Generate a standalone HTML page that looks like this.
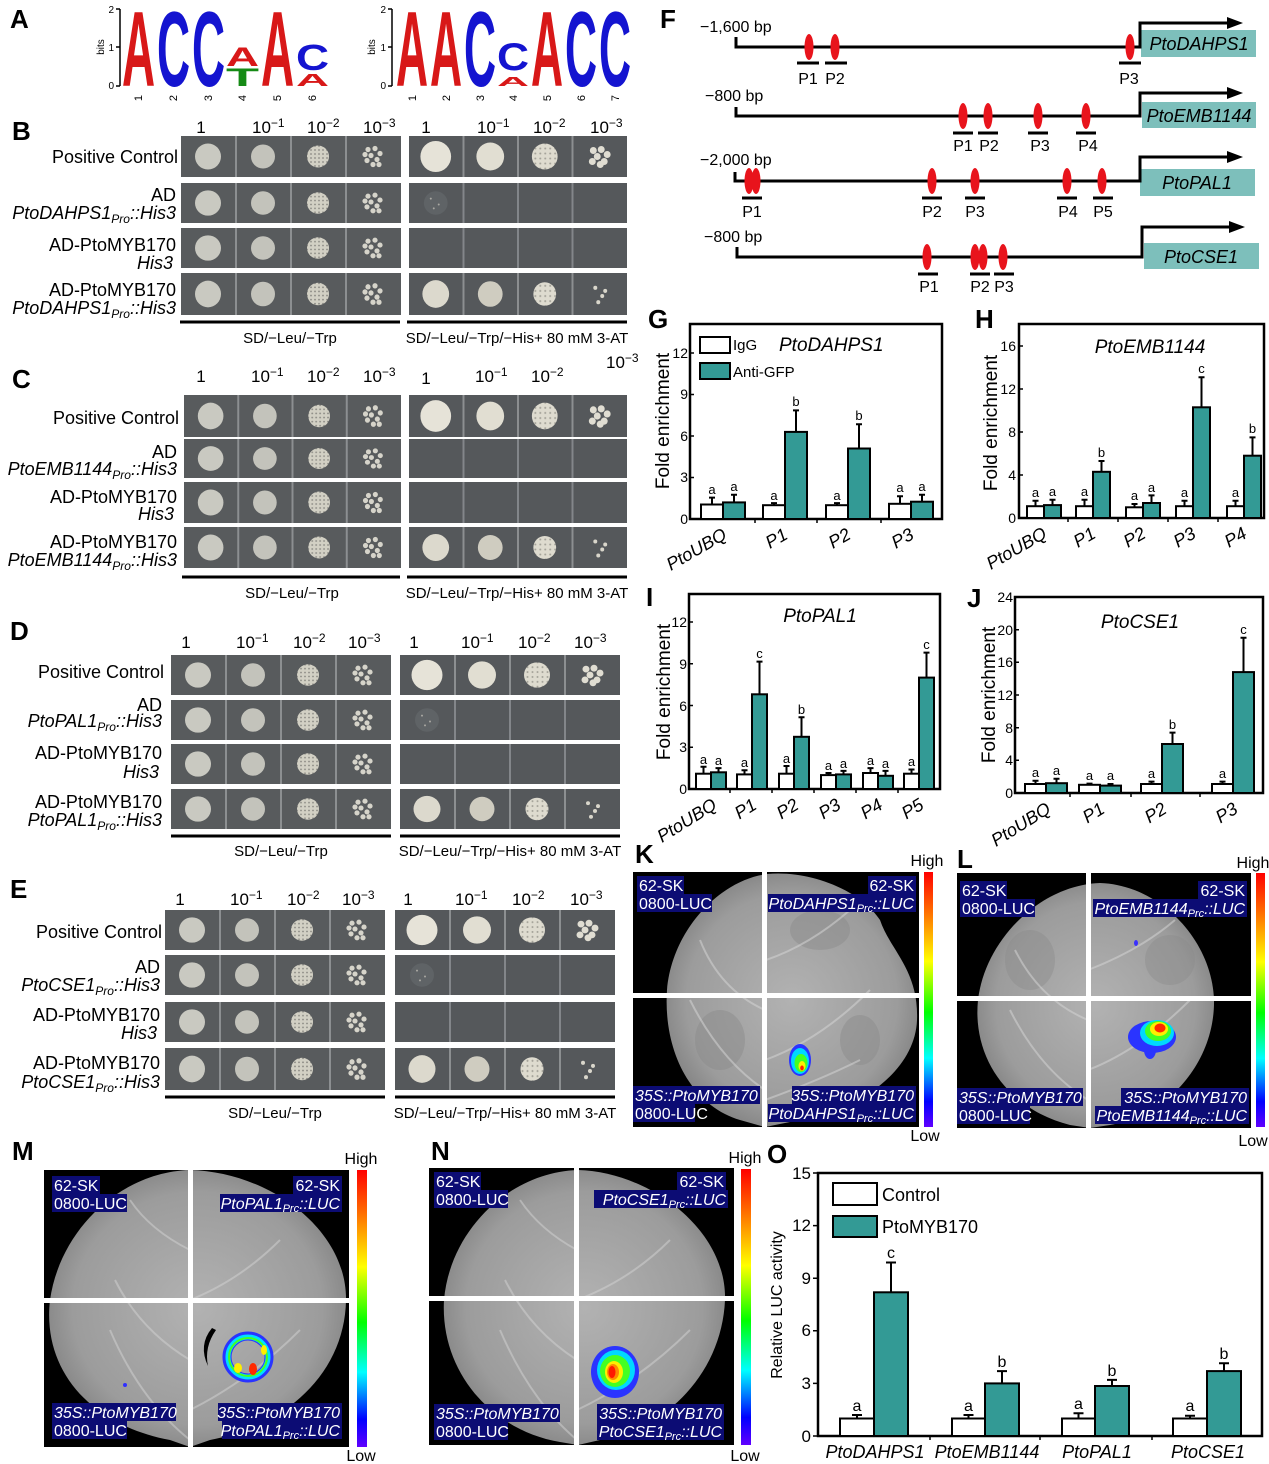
<!DOCTYPE html>
<html><head><meta charset="utf-8"><style>
html,body{margin:0;padding:0;background:#fff;}
svg{display:block;}
text{font-family:"Liberation Sans",Arial,sans-serif;}
.pl{font-size:26px;font-weight:bold;}
.rl{font-size:18px;text-anchor:end;}
.hd{font-size:17px;}
.sd{font-size:15px;text-anchor:middle;}
.lg{font-family:"Liberation Sans",Arial,sans-serif;font-weight:bold;font-size:100px;}
.tk{font-size:14px;text-anchor:end;}
.lt{font-size:13px;text-anchor:middle;}
.xl{font-size:18px;font-style:italic;text-anchor:end;}
.w{fill:#fff;stroke:#000;stroke-width:2;}
.t{fill:#339a95;stroke:#000;stroke-width:2;}
.lb{fill:#fff;font-size:16px;}
.nv{fill:#0c0c74;}
</style></head><body>
<svg width="1269" height="1464" viewBox="0 0 1269 1464" xmlns="http://www.w3.org/2000/svg">
<defs>
<pattern id="sp" width="4" height="4" patternUnits="userSpaceOnUse"><rect width="4" height="4" fill="#d2d0c4"/><circle cx="2" cy="2" r="0.9" fill="#8a8983"/></pattern>
<pattern id="sp2" width="5" height="5" patternUnits="userSpaceOnUse"><rect width="5" height="5" fill="#dedbcf"/><circle cx="2.5" cy="2.5" r="1" fill="#a4a299"/></pattern>
<linearGradient id="cb" x1="0" y1="0" x2="0" y2="1">
<stop offset="0" stop-color="#ff0000"/><stop offset="0.15" stop-color="#ff6a00"/><stop offset="0.35" stop-color="#ffff00"/><stop offset="0.55" stop-color="#00ff00"/><stop offset="0.73" stop-color="#00ffff"/><stop offset="0.9" stop-color="#0000ff"/><stop offset="1" stop-color="#6000ff"/>
</linearGradient>
<radialGradient id="lf" cx="0.5" cy="0.5" r="0.6"><stop offset="0" stop-color="#b2b2b2"/><stop offset="0.7" stop-color="#9c9c9c"/><stop offset="1" stop-color="#767676"/></radialGradient>
<symbol id="L" viewBox="0 0 220 41" preserveAspectRatio="none">
<rect width="220" height="41" fill="#585b5d"/>
<path d="M55 0V41M110 0V41M165 0V41" stroke="#8c8f91" stroke-width="2"/>
<circle cx="27" cy="20.5" r="13" fill="#c9c9c1"/>
<circle cx="82" cy="20.5" r="12" fill="#c3c3bb"/>
<circle cx="137" cy="20.5" r="11" fill="url(#sp)"/>
<g fill="#d6d4ca"><circle cx="187" cy="13.5" r="2.6"/><circle cx="194" cy="12.5" r="2.6"/><circle cx="199" cy="17.5" r="2.6"/><circle cx="190" cy="19.5" r="2.6"/><circle cx="196" cy="23.5" r="2.6"/><circle cx="186" cy="24.5" r="2.6"/><circle cx="192" cy="28.5" r="2.6"/><circle cx="198" cy="28.5" r="2.6"/><circle cx="184" cy="18.5" r="2.6"/></g>
</symbol>
<symbol id="RP" viewBox="0 0 220 41" preserveAspectRatio="none">
<rect width="220" height="41" fill="#55585b"/>
<path d="M55 0V41M110 0V41M165 0V41" stroke="#8c8f91" stroke-width="2"/>
<circle cx="27" cy="20.5" r="15.5" fill="#e6e3d8"/>
<circle cx="82" cy="20.5" r="14" fill="#e1ded2"/>
<circle cx="137" cy="20.5" r="13" fill="url(#sp2)"/>
<g fill="#e0ddd2"><circle cx="186" cy="14.5" r="3.5"/><circle cx="194" cy="13.5" r="3.5"/><circle cx="200" cy="18.5" r="3.5"/><circle cx="190" cy="20.5" r="3.5"/><circle cx="197" cy="25.5" r="3.5"/><circle cx="185" cy="25.5" r="3.5"/><circle cx="193" cy="28.5" r="3.5"/></g>
</symbol>
<symbol id="RE" viewBox="0 0 220 41" preserveAspectRatio="none">
<rect width="220" height="41" fill="#55585b"/>
<path d="M55 0V41M110 0V41M165 0V41" stroke="#83868a" stroke-width="2"/>
</symbol>
<symbol id="RF" viewBox="0 0 220 41" preserveAspectRatio="none">
<rect width="220" height="41" fill="#55585b"/>
<path d="M55 0V41M110 0V41M165 0V41" stroke="#83868a" stroke-width="2"/>
<circle cx="27" cy="20.5" r="12" fill="#5f6366"/>
<g fill="#a9a8a2"><circle cx="22" cy="16" r="1"/><circle cx="30" cy="22" r="1"/><circle cx="25" cy="26" r="1"/></g>
</symbol>
<symbol id="R4" viewBox="0 0 220 41" preserveAspectRatio="none">
<rect width="220" height="41" fill="#55585b"/>
<path d="M55 0V41M110 0V41M165 0V41" stroke="#8c8f91" stroke-width="2"/>
<circle cx="27" cy="20.5" r="13.5" fill="#dcd9cd"/>
<circle cx="82" cy="20.5" r="12.5" fill="#cfccc0"/>
<circle cx="137" cy="20.5" r="11.5" fill="url(#sp2)"/>
<g fill="#d9d6cb"><circle cx="188" cy="14.5" r="2"/><circle cx="195" cy="22.5" r="2"/><circle cx="191" cy="28.5" r="2"/><circle cx="198" cy="17.5" r="2"/></g>
</symbol>
</defs>

<!-- ===== A ===== -->
<text class="pl" x="10" y="28">A</text>
<path d="M120 9V86M116 9H120M116 47H120M116 86H120" stroke="#000" stroke-width="1.5" fill="none"/>
<text x="114" y="13" font-size="10" text-anchor="end">2</text>
<text x="114" y="51" font-size="10" text-anchor="end">1</text>
<text x="114" y="89" font-size="10" text-anchor="end">0</text>
<text transform="translate(104,47) rotate(-90)" font-size="10" text-anchor="middle">bits</text>
<text class="lg" fill="#d81818" transform="matrix(0.458 0 0 1.07 122 86)">A</text>
<text class="lg" fill="#1414d0" transform="matrix(0.458 0 0 1.07 157 86)">C</text>
<text class="lg" fill="#1414d0" transform="matrix(0.458 0 0 1.07 192 86)">C</text>
<text class="lg" fill="#d81818" transform="matrix(0.458 0 0 0.264 226 66)">A</text>
<text class="lg" fill="#158a15" transform="matrix(0.54 0 0 0.25 226 86)">T</text>
<text class="lg" fill="#d81818" transform="matrix(0.458 0 0 1.07 261 86)">A</text>
<text class="lg" fill="#1414d0" transform="matrix(0.458 0 0 0.36 296 70)">C</text>
<text class="lg" fill="#d81818" transform="matrix(0.458 0 0 0.18 296 86)">A</text>
<g font-size="11" text-anchor="middle">
<text transform="translate(142,98) rotate(-90)">1</text><text transform="translate(177,98) rotate(-90)">2</text><text transform="translate(212,98) rotate(-90)">3</text><text transform="translate(246,98) rotate(-90)">4</text><text transform="translate(281,98) rotate(-90)">5</text><text transform="translate(316,98) rotate(-90)">6</text>
</g>
<path d="M392 9V86M388 9H392M388 47H392M388 86H392" stroke="#000" stroke-width="1.5" fill="none"/>
<text x="386" y="13" font-size="10" text-anchor="end">2</text>
<text x="386" y="51" font-size="10" text-anchor="end">1</text>
<text x="386" y="89" font-size="10" text-anchor="end">0</text>
<text transform="translate(375,47) rotate(-90)" font-size="10" text-anchor="middle">bits</text>
<text class="lg" fill="#d81818" transform="matrix(0.444 0 0 1.07 396 86)">A</text>
<text class="lg" fill="#d81818" transform="matrix(0.444 0 0 1.07 430 86)">A</text>
<text class="lg" fill="#1414d0" transform="matrix(0.444 0 0 1.07 464 86)">C</text>
<text class="lg" fill="#1414d0" transform="matrix(0.444 0 0 0.389 497 70)">C</text>
<text class="lg" fill="#d81818" transform="matrix(0.444 0 0 0.125 497 86)">A</text>
<text class="lg" fill="#d81818" transform="matrix(0.444 0 0 1.07 531 86)">A</text>
<text class="lg" fill="#1414d0" transform="matrix(0.444 0 0 1.07 565 86)">C</text>
<text class="lg" fill="#1414d0" transform="matrix(0.444 0 0 1.07 599 86)">C</text>
<g font-size="11" text-anchor="middle">
<text transform="translate(416,98) rotate(-90)">1</text><text transform="translate(450,98) rotate(-90)">2</text><text transform="translate(484,98) rotate(-90)">3</text><text transform="translate(517,98) rotate(-90)">4</text><text transform="translate(551,98) rotate(-90)">5</text><text transform="translate(585,98) rotate(-90)">6</text><text transform="translate(619,98) rotate(-90)">7</text>
</g>

<!-- ===== B ===== -->
<text class="pl" x="12" y="140">B</text>
<g class="hd">
<text x="201" y="133" text-anchor="middle">1</text>
<text x="252" y="133">10<tspan font-size="12" dy="-6">−1</tspan></text>
<text x="307" y="133">10<tspan font-size="12" dy="-6">−2</tspan></text>
<text x="363" y="133">10<tspan font-size="12" dy="-6">−3</tspan></text>
<text x="426" y="133" text-anchor="middle">1</text>
<text x="477" y="133">10<tspan font-size="12" dy="-6">−1</tspan></text>
<text x="533" y="133">10<tspan font-size="12" dy="-6">−2</tspan></text>
<text x="590" y="133">10<tspan font-size="12" dy="-6">−3</tspan></text>
</g>
<use href="#L" x="181" y="136" width="220" height="41"/>
<use href="#L" x="181" y="183" width="220" height="40"/>
<use href="#L" x="181" y="228" width="220" height="40"/>
<use href="#L" x="181" y="273" width="220" height="42"/>
<use href="#RP" x="409" y="136" width="218" height="41"/>
<use href="#RF" x="409" y="183" width="218" height="40"/>
<use href="#RE" x="409" y="228" width="218" height="40"/>
<use href="#R4" x="409" y="273" width="218" height="42"/>
<path d="M180 322H400M407 322H627" stroke="#000" stroke-width="3"/>
<text class="sd" x="290" y="343">SD/−Leu/−Trp</text>
<text class="sd" x="517" y="343">SD/−Leu/−Trp/−His+ 80 mM 3-AT</text>
<g class="rl">
<text x="178" y="163">Positive Control</text>
<text x="176" y="201">AD</text>
<text x="176" y="219" font-style="italic">PtoDAHPS1<tspan font-size="12" dy="4">Pro</tspan><tspan dy="-4">::His3</tspan></text>
<text x="176" y="251">AD-PtoMYB170</text>
<text x="173" y="269" font-style="italic">His3</text>
<text x="176" y="296">AD-PtoMYB170</text>
<text x="176" y="314" font-style="italic">PtoDAHPS1<tspan font-size="12" dy="4">Pro</tspan><tspan dy="-4">::His3</tspan></text>
</g>

<!-- ===== C ===== -->
<text class="pl" x="12" y="388">C</text>
<g class="hd">
<text x="201" y="382" text-anchor="middle">1</text>
<text x="251" y="382">10<tspan font-size="12" dy="-6">−1</tspan></text>
<text x="307" y="382">10<tspan font-size="12" dy="-6">−2</tspan></text>
<text x="363" y="382">10<tspan font-size="12" dy="-6">−3</tspan></text>
<text x="426" y="384" text-anchor="middle">1</text>
<text x="475" y="382">10<tspan font-size="12" dy="-6">−1</tspan></text>
<text x="531" y="382">10<tspan font-size="12" dy="-6">−2</tspan></text>
<text x="606" y="368">10<tspan font-size="12" dy="-6">−3</tspan></text>
</g>
<use href="#L" x="184" y="395" width="217" height="42"/>
<use href="#L" x="184" y="439" width="217" height="39"/>
<use href="#L" x="184" y="482" width="217" height="41"/>
<use href="#L" x="184" y="527" width="217" height="41"/>
<use href="#RP" x="409" y="395" width="218" height="42"/>
<use href="#RE" x="409" y="439" width="218" height="39"/>
<use href="#RE" x="409" y="482" width="218" height="41"/>
<use href="#R4" x="409" y="527" width="218" height="41"/>
<path d="M182 577H400M407 577H627" stroke="#000" stroke-width="3"/>
<text class="sd" x="292" y="598">SD/−Leu/−Trp</text>
<text class="sd" x="517" y="598">SD/−Leu/−Trp/−His+ 80 mM 3-AT</text>
<g class="rl">
<text x="179" y="424">Positive Control</text>
<text x="177" y="458">AD</text>
<text x="177" y="475" font-style="italic">PtoEMB1144<tspan font-size="12" dy="4">Pro</tspan><tspan dy="-4">::His3</tspan></text>
<text x="177" y="503">AD-PtoMYB170</text>
<text x="174" y="520" font-style="italic">His3</text>
<text x="177" y="548">AD-PtoMYB170</text>
<text x="177" y="566" font-style="italic">PtoEMB1144<tspan font-size="12" dy="4">Pro</tspan><tspan dy="-4">::His3</tspan></text>
</g>

<!-- ===== D ===== -->
<text class="pl" x="10" y="640">D</text>
<g class="hd">
<text x="186" y="648" text-anchor="middle">1</text>
<text x="236" y="648">10<tspan font-size="12" dy="-6">−1</tspan></text>
<text x="293" y="648">10<tspan font-size="12" dy="-6">−2</tspan></text>
<text x="348" y="648">10<tspan font-size="12" dy="-6">−3</tspan></text>
<text x="414" y="648" text-anchor="middle">1</text>
<text x="461" y="648">10<tspan font-size="12" dy="-6">−1</tspan></text>
<text x="518" y="648">10<tspan font-size="12" dy="-6">−2</tspan></text>
<text x="574" y="648">10<tspan font-size="12" dy="-6">−3</tspan></text>
</g>
<use href="#L" x="171" y="655" width="220" height="40"/>
<use href="#L" x="171" y="700" width="220" height="40"/>
<use href="#L" x="171" y="744" width="220" height="40"/>
<use href="#L" x="171" y="789" width="220" height="40"/>
<use href="#RP" x="400" y="655" width="220" height="40"/>
<use href="#RF" x="400" y="700" width="220" height="40"/>
<use href="#RE" x="400" y="744" width="220" height="40"/>
<use href="#R4" x="400" y="789" width="220" height="40"/>
<path d="M171 836H391M400 836H620" stroke="#000" stroke-width="3"/>
<text class="sd" x="281" y="856">SD/−Leu/−Trp</text>
<text class="sd" x="510" y="856">SD/−Leu/−Trp/−His+ 80 mM 3-AT</text>
<g class="rl">
<text x="164" y="678">Positive Control</text>
<text x="162" y="711">AD</text>
<text x="162" y="727" font-style="italic">PtoPAL1<tspan font-size="12" dy="4">Pro</tspan><tspan dy="-4">::His3</tspan></text>
<text x="162" y="759">AD-PtoMYB170</text>
<text x="159" y="778" font-style="italic">His3</text>
<text x="162" y="808">AD-PtoMYB170</text>
<text x="162" y="826" font-style="italic">PtoPAL1<tspan font-size="12" dy="4">Pro</tspan><tspan dy="-4">::His3</tspan></text>
</g>

<!-- ===== E ===== -->
<text class="pl" x="10" y="898">E</text>
<g class="hd">
<text x="180" y="905" text-anchor="middle">1</text>
<text x="230" y="905">10<tspan font-size="12" dy="-6">−1</tspan></text>
<text x="287" y="905">10<tspan font-size="12" dy="-6">−2</tspan></text>
<text x="342" y="905">10<tspan font-size="12" dy="-6">−3</tspan></text>
<text x="408" y="905" text-anchor="middle">1</text>
<text x="455" y="905">10<tspan font-size="12" dy="-6">−1</tspan></text>
<text x="512" y="905">10<tspan font-size="12" dy="-6">−2</tspan></text>
<text x="570" y="905">10<tspan font-size="12" dy="-6">−3</tspan></text>
</g>
<use href="#L" x="165" y="910" width="220" height="40"/>
<use href="#L" x="165" y="955" width="220" height="40"/>
<use href="#L" x="165" y="1002" width="220" height="40"/>
<use href="#L" x="165" y="1048" width="220" height="42"/>
<use href="#RP" x="395" y="910" width="220" height="40"/>
<use href="#RF" x="395" y="955" width="220" height="40"/>
<use href="#RE" x="395" y="1002" width="220" height="40"/>
<use href="#R4" x="395" y="1048" width="220" height="42"/>
<path d="M165 1097H385M395 1097H615" stroke="#000" stroke-width="3"/>
<text class="sd" x="275" y="1118">SD/−Leu/−Trp</text>
<text class="sd" x="505" y="1118">SD/−Leu/−Trp/−His+ 80 mM 3-AT</text>
<g class="rl">
<text x="162" y="938">Positive Control</text>
<text x="160" y="973">AD</text>
<text x="160" y="991" font-style="italic">PtoCSE1<tspan font-size="12" dy="4">Pro</tspan><tspan dy="-4">::His3</tspan></text>
<text x="160" y="1021">AD-PtoMYB170</text>
<text x="157" y="1039" font-style="italic">His3</text>
<text x="160" y="1069">AD-PtoMYB170</text>
<text x="160" y="1088" font-style="italic">PtoCSE1<tspan font-size="12" dy="4">Pro</tspan><tspan dy="-4">::His3</tspan></text>
</g>

<!-- ===== F ===== -->
<text class="pl" x="660" y="28">F</text>
<g font-size="16">
<text x="700" y="32">−1,600 bp</text>
<text x="705" y="101">−800 bp</text>
<text x="700" y="165">−2,000 bp</text>
<text x="704" y="242">−800 bp</text>
</g>
<g fill="#7dbfbb">
<rect x="1141" y="30" width="115" height="27"/>
<rect x="1142" y="102" width="114" height="26"/>
<rect x="1140" y="169" width="115" height="27"/>
<rect x="1144" y="243" width="115" height="26"/>
</g>
<g font-size="18" font-style="italic" text-anchor="middle">
<text x="1199" y="50">PtoDAHPS1</text>
<text x="1199" y="122">PtoEMB1144</text>
<text x="1197" y="189">PtoPAL1</text>
<text x="1201" y="263">PtoCSE1</text>
</g>
<path d="M736 37V47H1140V23H1230M736 107V116H1140V93H1230M735 172V181H1140V157H1230M737 247V257H1142V227H1232" stroke="#000" stroke-width="3" fill="none"/>
<path d="M1227 17L1243 23L1227 29ZM1227 87L1243 93L1227 99ZM1227 151L1243 157L1227 163ZM1229 221L1245 227L1229 233Z" fill="#000"/>
<g fill="#e8141c">
<ellipse cx="809" cy="47" rx="4.5" ry="13"/><ellipse cx="835" cy="47" rx="4.5" ry="13"/><ellipse cx="1130" cy="47" rx="4.5" ry="13"/>
<ellipse cx="963" cy="116" rx="4.5" ry="13"/><ellipse cx="988" cy="116" rx="4.5" ry="13"/><ellipse cx="1038" cy="116" rx="4.5" ry="13"/><ellipse cx="1086" cy="116" rx="4.5" ry="13"/>
<ellipse cx="749" cy="181" rx="4.5" ry="13"/><ellipse cx="756" cy="181" rx="4.5" ry="13"/><ellipse cx="932" cy="181" rx="4.5" ry="13"/><ellipse cx="975" cy="181" rx="4.5" ry="13"/><ellipse cx="1067" cy="181" rx="4.5" ry="13"/><ellipse cx="1102" cy="181" rx="4.5" ry="13"/>
<ellipse cx="927" cy="257" rx="4.5" ry="13"/><ellipse cx="975" cy="257" rx="4.5" ry="13"/><ellipse cx="983" cy="257" rx="4.5" ry="13"/><ellipse cx="1003" cy="257" rx="4.5" ry="13"/>
</g>
<path d="M797 63H819M825 63H847M1119 63H1141M953 133H973M978 133H998M1028 133H1048M1076 133H1096M742 198H762M922 198H942M965 198H985M1057 198H1077M1093 198H1113M918 274H938M970 274H990M994 274H1014" stroke="#000" stroke-width="3"/>
<g font-size="16" text-anchor="middle">
<text x="808" y="84">P1</text><text x="835" y="84">P2</text><text x="1129" y="84">P3</text>
<text x="963" y="151">P1</text><text x="989" y="151">P2</text><text x="1040" y="151">P3</text><text x="1088" y="151">P4</text>
<text x="752" y="217">P1</text><text x="932" y="217">P2</text><text x="975" y="217">P3</text><text x="1068" y="217">P4</text><text x="1103" y="217">P5</text>
<text x="929" y="292">P1</text><text x="980" y="292">P2</text><text x="1004" y="292">P3</text>
</g>

<!-- ===== G ===== -->
<text class="pl" x="648" y="328">G</text>
<rect x="690" y="324" width="252" height="195" fill="none" stroke="#000" stroke-width="2.5"/>
<path d="M690 353H694M690 394.5H694M690 436H694M690 477.5H694M755 519V523M817 519V523M881 519V523" stroke="#000" stroke-width="1.5"/>
<g class="tk"><text x="688" y="358">12</text><text x="688" y="399">9</text><text x="688" y="441">6</text><text x="688" y="482">3</text><text x="688" y="524">0</text></g>
<text transform="translate(669,421) rotate(-90)" font-size="19" text-anchor="middle">Fold enrichment</text>
<rect x="700" y="337" width="30" height="16" class="w"/>
<rect x="700" y="363" width="30" height="16" class="t"/>
<text x="733" y="350" font-size="15">IgG</text>
<text x="733" y="377" font-size="15">Anti-GFP</text>
<text x="779" y="351" font-size="19" font-style="italic">PtoDAHPS1</text>
<rect class="w" x="701" y="504.5" width="22" height="14.5"/><rect class="t" x="723" y="502.4" width="22" height="16.6"/>
<rect class="w" x="763" y="505.2" width="22" height="13.8"/><rect class="t" x="785" y="431.9" width="22" height="87.1"/>
<rect class="w" x="826" y="505.2" width="22" height="13.8"/><rect class="t" x="848" y="448.5" width="22" height="70.5"/>
<rect class="w" x="889" y="503.8" width="22" height="15.2"/><rect class="t" x="911" y="501.7" width="22" height="17.3"/>
<path d="M712 504.5V497.6M709 497.6H715M734 502.4V494.8M731 494.8H737M774 505.2V503.1M771 503.1H777M796 431.9V410.4M793 410.4H799M837 505.2V503.1M834 503.1H840M859 448.5V424.3M856 424.3H862M900 503.8V496.2M897 496.2H903M922 501.7V494.8M919 494.8H925" stroke="#000" stroke-width="2"/>
<g class="lt"><text x="712" y="494">a</text><text x="734" y="491">a</text><text x="774" y="500">a</text><text x="796" y="406">b</text><text x="837" y="500">a</text><text x="859" y="420">b</text><text x="900" y="492">a</text><text x="922" y="491">a</text></g>
<g class="xl">
<text transform="translate(728,538) rotate(-30)">PtoUBQ</text>
<text transform="translate(789,538) rotate(-30)">P1</text>
<text transform="translate(852,538) rotate(-30)">P2</text>
<text transform="translate(915,538) rotate(-30)">P3</text>
</g>

<!-- ===== H ===== -->
<text class="pl" x="975" y="328">H</text>
<rect x="1019" y="324" width="245" height="194" fill="none" stroke="#000" stroke-width="2.5"/>
<path d="M1019 346H1023M1019 389H1023M1019 432H1023M1019 475H1023M1068 518V522M1118 518V522M1168 518V522M1218 518V522" stroke="#000" stroke-width="1.5"/>
<g class="tk"><text x="1016" y="351">16</text><text x="1016" y="394">12</text><text x="1016" y="437">8</text><text x="1016" y="480">4</text><text x="1016" y="523">0</text></g>
<text transform="translate(997,423) rotate(-90)" font-size="19" text-anchor="middle">Fold enrichment</text>
<text x="1150" y="353" font-size="19" font-style="italic" text-anchor="middle">PtoEMB1144</text>
<rect class="w" x="1027" y="506.2" width="17" height="11.8"/><rect class="t" x="1044" y="505.1" width="17" height="12.9"/>
<rect class="w" x="1076" y="506.2" width="17" height="11.8"/><rect class="t" x="1093" y="471.8" width="17" height="46.2"/>
<rect class="w" x="1126" y="507.3" width="17" height="10.7"/><rect class="t" x="1143" y="503" width="17" height="15"/>
<rect class="w" x="1176" y="506.2" width="17" height="11.8"/><rect class="t" x="1193" y="407.3" width="17" height="110.7"/>
<rect class="w" x="1227" y="506.2" width="17" height="11.8"/><rect class="t" x="1244" y="455.7" width="17" height="62.3"/>
<path d="M1035.5 506.2V500.8M1032.5 500.8H1038.5M1052.5 505.1V499.7M1049.5 499.7H1055.5M1084.5 506.2V499.7M1081.5 499.7H1087.5M1101.5 471.8V461M1098.5 461H1104.5M1134.5 507.3V504M1131.5 504H1137.5M1151.5 503V495.4M1148.5 495.4H1154.5M1184.5 506.2V500.8M1181.5 500.8H1187.5M1201.5 407.3V377.2M1198.5 377.2H1204.5M1235.5 506.2V500.8M1232.5 500.8H1238.5M1252.5 455.7V437.4M1249.5 437.4H1255.5" stroke="#000" stroke-width="2"/>
<g class="lt"><text x="1035.5" y="497">a</text><text x="1052.5" y="496">a</text><text x="1084.5" y="496">a</text><text x="1101.5" y="457">b</text><text x="1134.5" y="500">a</text><text x="1151.5" y="492">a</text><text x="1184.5" y="497">a</text><text x="1201.5" y="373">c</text><text x="1235.5" y="497">a</text><text x="1252.5" y="433">b</text></g>
<g class="xl">
<text transform="translate(1048,537) rotate(-30)">PtoUBQ</text>
<text transform="translate(1097,537) rotate(-30)">P1</text>
<text transform="translate(1147,537) rotate(-30)">P2</text>
<text transform="translate(1197,537) rotate(-30)">P3</text>
<text transform="translate(1248,537) rotate(-30)">P4</text>
</g>

<!-- ===== I ===== -->
<text class="pl" x="646" y="606">I</text>
<rect x="689" y="594" width="251" height="195" fill="none" stroke="#000" stroke-width="2.5"/>
<path d="M689 622H693M689 663.7H693M689 705.5H693M689 747.2H693M730 789V793M772 789V793M814 789V793M856 789V793M898 789V793" stroke="#000" stroke-width="1.5"/>
<g class="tk"><text x="687" y="627">12</text><text x="687" y="669">9</text><text x="687" y="711">6</text><text x="687" y="752">3</text><text x="687" y="794">0</text></g>
<text transform="translate(670,692) rotate(-90)" font-size="19" text-anchor="middle">Fold enrichment</text>
<text x="820" y="622" font-size="19" font-style="italic" text-anchor="middle">PtoPAL1</text>
<rect class="w" x="696" y="773.7" width="15" height="15.3"/><rect class="t" x="711" y="772.3" width="15" height="16.7"/>
<rect class="w" x="737" y="774.4" width="15" height="14.6"/><rect class="t" x="752" y="694.3" width="15" height="94.7"/>
<rect class="w" x="779" y="773.7" width="15" height="15.3"/><rect class="t" x="794" y="736.8" width="15" height="52.2"/>
<rect class="w" x="821" y="775.1" width="15" height="13.9"/><rect class="t" x="836" y="774.4" width="15" height="14.6"/>
<rect class="w" x="863" y="773" width="15" height="16"/><rect class="t" x="878" y="775.8" width="15" height="13.2"/>
<rect class="w" x="904" y="773.7" width="15" height="15.3"/><rect class="t" x="919" y="677.6" width="15" height="111.4"/>
<path d="M703.5 773.7V766.7M700.5 766.7H706.5M718.5 772.3V768.1M715.5 768.1H721.5M744.5 774.4V770.2M741.5 770.2H747.5M759.5 694.3V661.6M756.5 661.6H762.5M786.5 773.7V766M783.5 766H789.5M801.5 736.8V717.3M798.5 717.3H804.5M828.5 775.1V773M825.5 773H831.5M843.5 774.4V770.9M840.5 770.9H846.5M870.5 773V768.1M867.5 768.1H873.5M885.5 775.8V770.9M882.5 770.9H888.5M911.5 773.7V769.5M908.5 769.5H914.5M926.5 677.6V652.6M923.5 652.6H929.5" stroke="#000" stroke-width="2"/>
<g class="lt"><text x="703.5" y="764">a</text><text x="718.5" y="765">a</text><text x="744.5" y="767">a</text><text x="759.5" y="658">c</text><text x="786.5" y="763">a</text><text x="801.5" y="714">b</text><text x="828.5" y="770">a</text><text x="843.5" y="768">a</text><text x="870.5" y="765">a</text><text x="885.5" y="768">a</text><text x="911.5" y="766">a</text><text x="926.5" y="649">c</text></g>
<g class="xl">
<text transform="translate(718,808) rotate(-32)">PtoUBQ</text>
<text transform="translate(758,808) rotate(-32)">P1</text>
<text transform="translate(800,808) rotate(-32)">P2</text>
<text transform="translate(842,808) rotate(-32)">P3</text>
<text transform="translate(884,808) rotate(-32)">P4</text>
<text transform="translate(925,808) rotate(-32)">P5</text>
</g>

<!-- ===== J ===== -->
<text class="pl" x="967" y="607">J</text>
<rect x="1015" y="597" width="248" height="196" fill="none" stroke="#000" stroke-width="2.5"/>
<path d="M1015 629.7H1019M1015 662.3H1019M1015 695H1019M1015 727.7H1019M1015 760.3H1019M1070 793V797M1131 793V797M1200 793V797" stroke="#000" stroke-width="1.5"/>
<g class="tk"><text x="1013" y="602">24</text><text x="1013" y="635">20</text><text x="1013" y="667">16</text><text x="1013" y="700">12</text><text x="1013" y="733">8</text><text x="1013" y="765">4</text><text x="1013" y="798">0</text></g>
<text transform="translate(995,695) rotate(-90)" font-size="19" text-anchor="middle">Fold enrichment</text>
<text x="1140" y="628" font-size="19" font-style="italic" text-anchor="middle">PtoCSE1</text>
<rect class="w" x="1025" y="784" width="21" height="9"/><rect class="t" x="1046" y="783.2" width="21" height="9.8"/>
<rect class="w" x="1079" y="784.8" width="21" height="8.2"/><rect class="t" x="1100" y="785.6" width="21" height="7.4"/>
<rect class="w" x="1141" y="784" width="21" height="9"/><rect class="t" x="1162" y="744" width="21" height="49"/>
<rect class="w" x="1212" y="784" width="21" height="9"/><rect class="t" x="1233" y="672.1" width="21" height="120.9"/>
<path d="M1035.5 784V780.7M1032.5 780.7H1038.5M1056.5 783.2V778.7M1053.5 778.7H1059.5M1089.5 784.8V783.6M1086.5 783.6H1092.5M1110.5 785.6V784M1107.5 784H1113.5M1151.5 784V781.6M1148.5 781.6H1154.5M1172.5 744V732.6M1169.5 732.6H1175.5M1222.5 784V781.6M1219.5 781.6H1225.5M1243.5 672.1V637.8M1240.5 637.8H1246.5" stroke="#000" stroke-width="2"/>
<g class="lt"><text x="1035.5" y="777">a</text><text x="1056.5" y="775">a</text><text x="1089.5" y="780">a</text><text x="1110.5" y="780">a</text><text x="1151.5" y="778">a</text><text x="1172.5" y="729">b</text><text x="1222.5" y="778">a</text><text x="1243.5" y="634">c</text></g>
<g class="xl">
<text transform="translate(1052,812) rotate(-32)">PtoUBQ</text>
<text transform="translate(1106,812) rotate(-32)">P1</text>
<text transform="translate(1168,812) rotate(-32)">P2</text>
<text transform="translate(1239,812) rotate(-32)">P3</text>
</g>

<!-- ===== K ===== -->
<text class="pl" x="635" y="863">K</text>
<rect x="633" y="872" width="286" height="255" fill="#000"/>
<path d="M767 874C720 880 672 930 667 990C663 1050 690 1105 740 1120L765 1127L790 1122C850 1115 915 1075 917 1020C919 970 890 950 880 920C860 890 810 870 767 874Z" fill="url(#lf)"/>
<g fill="#8a8a8a" opacity="0.45"><ellipse cx="820" cy="930" rx="30" ry="20"/><ellipse cx="720" cy="1040" rx="25" ry="30"/><ellipse cx="860" cy="1040" rx="20" ry="25"/></g>
<path d="M765 1090Q720 1060 690 1000M765 1060Q820 1040 870 990M765 1010Q720 990 700 940M766 960Q810 945 850 910M765 1100Q820 1080 860 1060" stroke="#d4d4d4" stroke-opacity="0.55" stroke-width="2" fill="none"/>
<rect x="762" y="872" width="5" height="255" fill="#fff"/>
<rect x="633" y="993" width="286" height="5" fill="#fff"/>
<ellipse cx="800" cy="1060" rx="11" ry="16" fill="#2a34ff"/>
<ellipse cx="800" cy="1061" rx="9" ry="13" fill="#00d8ff"/>
<ellipse cx="801" cy="1063" rx="6.5" ry="9" fill="#44ff22"/>
<ellipse cx="802" cy="1066" rx="3.5" ry="5" fill="#ffee00"/>
<ellipse cx="802" cy="1068" rx="1.8" ry="2.5" fill="#ff2000"/>
<rect class="nv" x="637" y="876" width="47" height="18"/><rect class="nv" x="637" y="894" width="75" height="18"/>
<rect class="nv" x="868" y="876" width="48" height="18"/><rect class="nv" x="768" y="894" width="148" height="18"/>
<rect class="nv" x="633" y="1086" width="127" height="18"/><rect class="nv" x="633" y="1104" width="62" height="18"/>
<rect class="nv" x="792" y="1086" width="124" height="18"/><rect class="nv" x="768" y="1104" width="148" height="18"/>
<g class="lb">
<text x="639" y="891">62-SK</text><text x="639" y="909">0800-LUC</text>
<text x="914" y="891" text-anchor="end">62-SK</text>
<text x="914" y="909" text-anchor="end" font-style="italic">PtoDAHPS1<tspan font-size="11" dy="3">Prc</tspan><tspan dy="-3">::LUC</tspan></text>
<text x="635" y="1101" font-style="italic">35S::PtoMYB170</text><text x="635" y="1119">0800-LUC</text>
<text x="914" y="1101" text-anchor="end" font-style="italic">35S::PtoMYB170</text>
<text x="914" y="1119" text-anchor="end" font-style="italic">PtoDAHPS1<tspan font-size="11" dy="3">Prc</tspan><tspan dy="-3">::LUC</tspan></text>
</g>
<rect x="924" y="872" width="9" height="255" fill="url(#cb)"/>
<text x="927" y="866" font-size="16" text-anchor="middle">High</text>
<text x="925" y="1141" font-size="16" text-anchor="middle">Low</text>

<!-- ===== L ===== -->
<text class="pl" x="957" y="868">L</text>
<rect x="957" y="873" width="294" height="255" fill="#000"/>
<path d="M1100 883C1040 885 985 940 978 1000C972 1060 1010 1110 1070 1125L1090 1128L1110 1125C1170 1115 1215 1060 1214 1000C1212 940 1160 885 1100 883Z" fill="url(#lf)"/>
<g fill="#8a8a8a" opacity="0.4"><ellipse cx="1030" cy="960" rx="25" ry="30"/><ellipse cx="1170" cy="960" rx="25" ry="25"/></g>
<path d="M1088 1100Q1040 1070 1010 1010M1088 1070Q1140 1050 1190 1000M1088 1020Q1040 1000 1015 950M1088 970Q1140 950 1175 920" stroke="#d4d4d4" stroke-opacity="0.55" stroke-width="2" fill="none"/>
<rect x="1086" y="873" width="5" height="255" fill="#fff"/>
<rect x="957" y="996" width="294" height="5" fill="#fff"/>
<ellipse cx="1152" cy="1037" rx="24" ry="16" fill="#2a34ff"/>
<ellipse cx="1150" cy="1050" rx="6" ry="9" fill="#2a34ff"/>
<ellipse cx="1157" cy="1033" rx="17" ry="13" fill="#00d8ff"/>
<ellipse cx="1158" cy="1031" rx="13" ry="10" fill="#44ff22"/>
<ellipse cx="1159" cy="1029" rx="9" ry="7" fill="#ffee00"/>
<ellipse cx="1160" cy="1028" rx="5.5" ry="4.5" fill="#ff2a00"/>
<ellipse cx="1136" cy="943" rx="2" ry="3" fill="#3a30ff"/>
<rect class="nv" x="960" y="881" width="47" height="18"/><rect class="nv" x="960" y="899" width="75" height="18"/>
<rect class="nv" x="1198" y="881" width="49" height="18"/><rect class="nv" x="1093" y="899" width="154" height="18"/>
<rect class="nv" x="957" y="1088" width="126" height="18"/><rect class="nv" x="957" y="1106" width="73" height="18"/>
<rect class="nv" x="1121" y="1088" width="128" height="18"/><rect class="nv" x="1095" y="1106" width="154" height="18"/>
<g class="lb">
<text x="962" y="896">62-SK</text><text x="962" y="914">0800-LUC</text>
<text x="1245" y="896" text-anchor="end">62-SK</text>
<text x="1245" y="914" text-anchor="end" font-style="italic">PtoEMB1144<tspan font-size="11" dy="3">Prc</tspan><tspan dy="-3">::LUC</tspan></text>
<text x="959" y="1103" font-style="italic">35S::PtoMYB170</text><text x="959" y="1121">0800-LUC</text>
<text x="1247" y="1103" text-anchor="end" font-style="italic">35S::PtoMYB170</text>
<text x="1247" y="1121" text-anchor="end" font-style="italic">PtoEMB1144<tspan font-size="11" dy="3">Prc</tspan><tspan dy="-3">::LUC</tspan></text>
</g>
<rect x="1256" y="873" width="9" height="254" fill="url(#cb)"/>
<text x="1253" y="868" font-size="16" text-anchor="middle">High</text>
<text x="1253" y="1146" font-size="16" text-anchor="middle">Low</text>

<!-- ===== M ===== -->
<text class="pl" x="12" y="1160">M</text>
<rect x="44" y="1170" width="305" height="277" fill="#000"/>
<path d="M190 1170C120 1172 60 1230 50 1300C42 1370 90 1425 170 1440L190 1447L210 1440C290 1425 345 1370 346 1300C347 1230 270 1172 190 1170Z" fill="url(#lf)"/>
<path d="M190 1440Q140 1400 110 1330M190 1410Q250 1380 300 1330M190 1360Q140 1330 115 1280M190 1300Q240 1280 280 1240M190 1250Q150 1230 130 1200" stroke="#d4d4d4" stroke-opacity="0.5" stroke-width="2" fill="none"/>
<path d="M212 1328Q198 1345 208 1366Q204 1347 216 1330Z" fill="#000"/>
<rect x="188" y="1170" width="5" height="277" fill="#fff"/>
<rect x="44" y="1298" width="305" height="5" fill="#fff"/>
<ellipse cx="248" cy="1357" rx="21" ry="21" fill="none" stroke="#2a34ff" stroke-width="9"/>
<ellipse cx="248" cy="1357" rx="20" ry="20" fill="none" stroke="#00e0ff" stroke-width="5"/>
<ellipse cx="248" cy="1357" rx="19" ry="19" fill="none" stroke="#44ff22" stroke-width="2"/>
<ellipse cx="238" cy="1368" rx="4" ry="5" fill="#ffee00"/>
<ellipse cx="253" cy="1369" rx="4" ry="6" fill="#ff2a00"/>
<ellipse cx="264" cy="1350" rx="3" ry="5" fill="#ffee00"/>
<circle cx="125" cy="1385" r="2" fill="#3030ff"/>
<rect class="nv" x="52" y="1176" width="48" height="18"/><rect class="nv" x="52" y="1194" width="75" height="18"/>
<rect class="nv" x="293" y="1176" width="49" height="18"/><rect class="nv" x="220" y="1194" width="122" height="18"/>
<rect class="nv" x="52" y="1403" width="124" height="18"/><rect class="nv" x="52" y="1421" width="75" height="18"/>
<rect class="nv" x="218" y="1403" width="124" height="18"/><rect class="nv" x="222" y="1421" width="120" height="18"/>
<g class="lb">
<text x="54" y="1191">62-SK</text><text x="54" y="1209">0800-LUC</text>
<text x="340" y="1191" text-anchor="end">62-SK</text>
<text x="340" y="1209" text-anchor="end" font-style="italic">PtoPAL1<tspan font-size="11" dy="3">Prc</tspan><tspan dy="-3">::LUC</tspan></text>
<text x="54" y="1418" font-style="italic">35S::PtoMYB170</text><text x="54" y="1436">0800-LUC</text>
<text x="340" y="1418" text-anchor="end" font-style="italic">35S::PtoMYB170</text>
<text x="340" y="1436" text-anchor="end" font-style="italic">PtoPAL1<tspan font-size="11" dy="3">Prc</tspan><tspan dy="-3">::LUC</tspan></text>
</g>
<rect x="357" y="1170" width="10" height="277" fill="url(#cb)"/>
<text x="361" y="1164" font-size="16" text-anchor="middle">High</text>
<text x="361" y="1461" font-size="16" text-anchor="middle">Low</text>

<!-- ===== N ===== -->
<text class="pl" x="431" y="1160">N</text>
<rect x="429" y="1168" width="305" height="277" fill="#000"/>
<path d="M578 1170C510 1172 450 1230 444 1300C440 1370 490 1430 560 1442L578 1445L600 1440C670 1428 722 1370 725 1300C727 1230 650 1172 578 1170Z" fill="url(#lf)"/>
<path d="M577 1440Q530 1400 500 1330M577 1410Q640 1380 690 1330M577 1360Q530 1330 505 1280M577 1300Q630 1280 670 1240M577 1250Q540 1230 520 1200" stroke="#d4d4d4" stroke-opacity="0.5" stroke-width="2" fill="none"/>
<rect x="574" y="1168" width="5" height="277" fill="#fff"/>
<rect x="429" y="1296" width="305" height="5" fill="#fff"/>
<ellipse cx="615" cy="1372" rx="24" ry="26" fill="#2a34ff"/>
<ellipse cx="616" cy="1370" rx="19" ry="20" fill="#00d8ff"/>
<ellipse cx="615" cy="1371" rx="15" ry="16" fill="#44ff22"/>
<ellipse cx="614" cy="1372" rx="9" ry="11" fill="#ffee00"/>
<ellipse cx="613" cy="1372" rx="6" ry="8" fill="#ff8a00"/>
<ellipse cx="612" cy="1372" rx="3.5" ry="6" fill="#ff1a00"/>
<rect class="nv" x="434" y="1172" width="47" height="18"/><rect class="nv" x="434" y="1190" width="74" height="18"/>
<rect class="nv" x="677" y="1172" width="49" height="18"/><rect class="nv" x="594" y="1190" width="134" height="18"/>
<rect class="nv" x="434" y="1404" width="126" height="18"/><rect class="nv" x="434" y="1422" width="74" height="18"/>
<rect class="nv" x="597" y="1404" width="127" height="18"/><rect class="nv" x="597" y="1422" width="127" height="18"/>
<g class="lb">
<text x="436" y="1187">62-SK</text><text x="436" y="1205">0800-LUC</text>
<text x="724" y="1187" text-anchor="end">62-SK</text>
<text x="726" y="1205" text-anchor="end" font-style="italic">PtoCSE1<tspan font-size="11" dy="3">Prc</tspan><tspan dy="-3">::LUC</tspan></text>
<text x="436" y="1419" font-style="italic">35S::PtoMYB170</text><text x="436" y="1437">0800-LUC</text>
<text x="722" y="1419" text-anchor="end" font-style="italic">35S::PtoMYB170</text>
<text x="722" y="1437" text-anchor="end" font-style="italic">PtoCSE1<tspan font-size="11" dy="3">Prc</tspan><tspan dy="-3">::LUC</tspan></text>
</g>
<rect x="741" y="1169" width="10" height="276" fill="url(#cb)"/>
<text x="745" y="1163" font-size="16" text-anchor="middle">High</text>
<text x="745" y="1461" font-size="16" text-anchor="middle">Low</text>

<!-- ===== O ===== -->
<text class="pl" x="767" y="1163">O</text>
<rect x="818" y="1173" width="444" height="263" fill="none" stroke="#000" stroke-width="2.5"/>
<path d="M813 1173H818M813 1225.6H818M813 1278.2H818M813 1330.8H818M813 1383.4H818M813 1436H818M930 1436V1440M1040 1436V1440M1152 1436V1440" stroke="#000" stroke-width="1.5"/>
<g font-size="17" text-anchor="end"><text x="811" y="1179">15</text><text x="811" y="1231">12</text><text x="811" y="1284">9</text><text x="811" y="1336">6</text><text x="811" y="1389">3</text><text x="811" y="1442">0</text></g>
<text transform="translate(782,1305) rotate(-90)" font-size="16" text-anchor="middle">Relative LUC activity</text>
<rect x="833" y="1183" width="44" height="22" class="w"/>
<rect x="833" y="1216" width="44" height="21" class="t"/>
<text x="882" y="1201" font-size="18">Control</text>
<text x="882" y="1233" font-size="18">PtoMYB170</text>
<rect class="w" x="840" y="1418.5" width="34" height="17.5"/><rect class="t" x="874" y="1292.3" width="34" height="143.7"/>
<rect class="w" x="952" y="1418.5" width="33" height="17.5"/><rect class="t" x="985" y="1383.4" width="34" height="52.6"/>
<rect class="w" x="1062" y="1418.5" width="33" height="17.5"/><rect class="t" x="1095" y="1386" width="34" height="50"/>
<rect class="w" x="1173" y="1418.5" width="34" height="17.5"/><rect class="t" x="1207" y="1371.1" width="34" height="64.9"/>
<path d="M857 1418.5V1415M852 1415H862M891 1292.3V1262.5M886 1262.5H896M968.5 1418.5V1415M963.5 1415H973.5M1002 1383.4V1371.1M997 1371.1H1007M1078.5 1418.5V1413.2M1073.5 1413.2H1083.5M1112 1386V1379.9M1107 1379.9H1117M1190 1418.5V1415.8M1185 1415.8H1195M1224 1371.1V1363.3M1219 1363.3H1229" stroke="#000" stroke-width="2"/>
<g font-size="16" text-anchor="middle"><text x="857" y="1411">a</text><text x="891" y="1258">c</text><text x="968.5" y="1411">a</text><text x="1002" y="1367">b</text><text x="1078.5" y="1409">a</text><text x="1112" y="1376">b</text><text x="1190" y="1411">a</text><text x="1224" y="1359">b</text></g>
<g font-size="18" font-style="italic" text-anchor="middle"><text x="875" y="1458">PtoDAHPS1</text><text x="987" y="1458">PtoEMB1144</text><text x="1097" y="1458">PtoPAL1</text><text x="1208" y="1458">PtoCSE1</text></g>
</svg>
</body></html>
